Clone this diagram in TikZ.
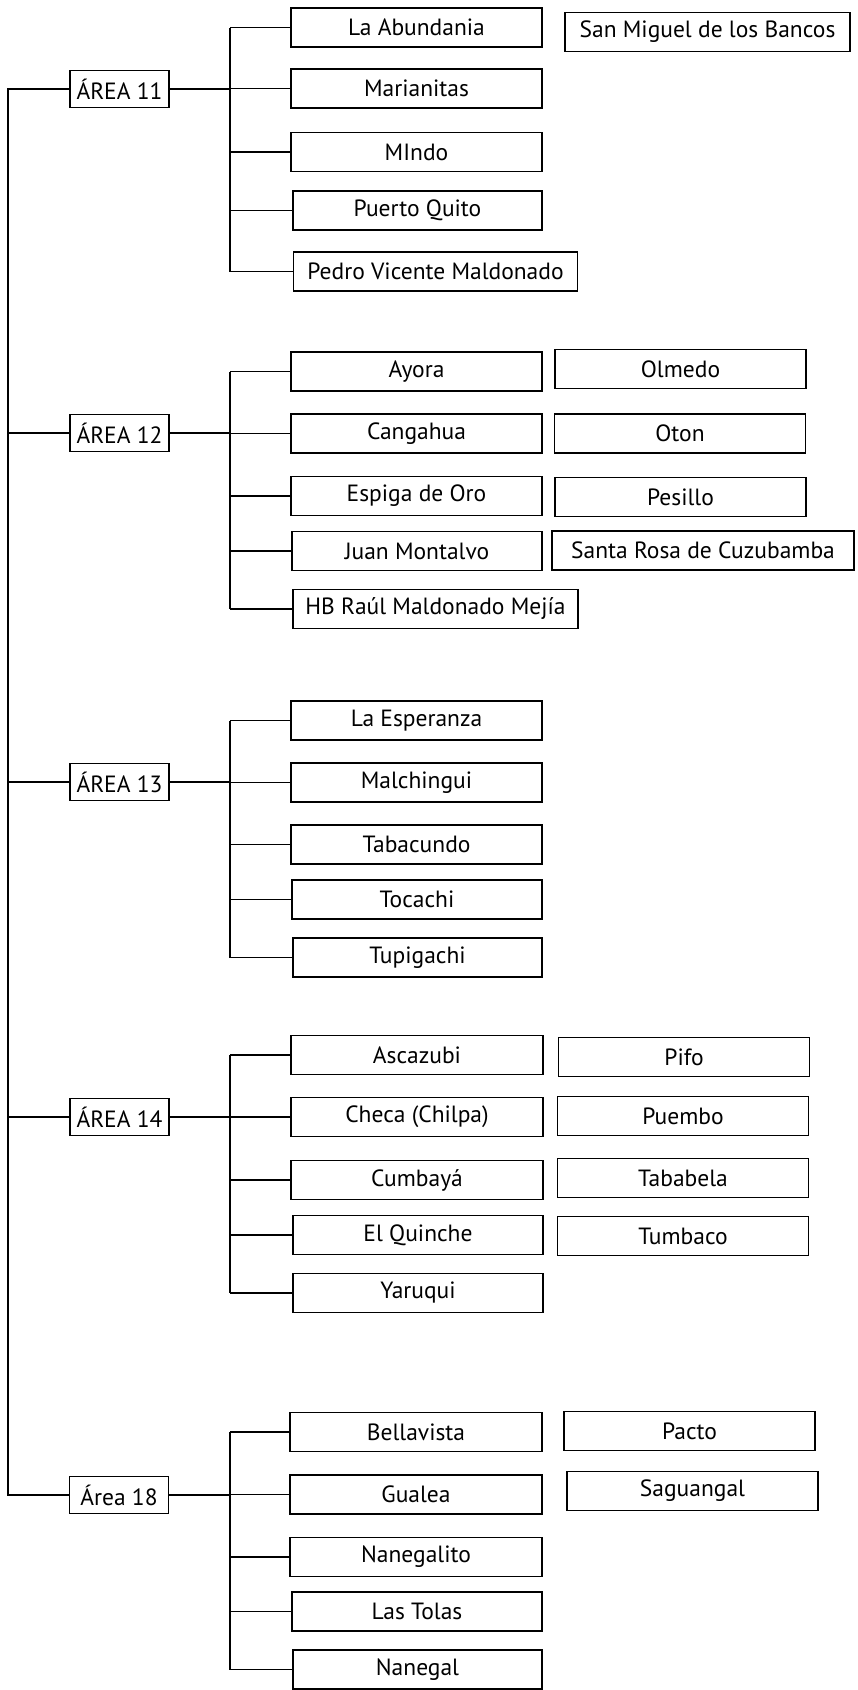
\documentclass[tikz,border=0pt]{standalone}
\usepackage{fontspec}
\setmainfont{PT Sans}
\begin{document}
\begin{tikzpicture}[x=1pt,y=-1pt]
  \tikzset{bx/.style={draw,rectangle,line width=1.4pt,minimum width=251pt,minimum height=39pt,inner sep=0pt,font=\fontsize{23.5}{25}\selectfont},
    ab/.style={bx,minimum width=99pt,minimum height=37pt},
    ln/.style={line width=1.3pt}}
  \useasboundingbox (0,0) rectangle (858,1690);
  \node[ab] (a11) at (119.5,89) {ÁREA 11};
  \node[ab] (a12) at (119.5,433) {ÁREA 12};
  \node[ab] (a13) at (119.5,782) {ÁREA 13};
  \node[ab] (a14) at (119.5,1117) {ÁREA 14};
  \node[ab] (a18) at (119,1495) {Área 18};
  \node[bx] (lab) at (416.5,27.5) {La Abundania};
  \node[bx] (mar) at (416.5,88.5) {Marianitas};
  \node[bx] (mid) at (416.5,152) {MIndo};
  \node[bx,minimum width=249pt] (pqu) at (417.5,210.5) {Puerto Quito};
  \node[bx,minimum width=284pt] (pvm) at (435.5,271.5) {Pedro Vicente Maldonado};
  \node[bx,minimum width=285pt] (smb) at (707.5,32) {San Miguel de los Bancos};
  \node[bx] (ayo) at (416.5,371.5) {Ayora};
  \node[bx] (cng) at (416.5,433.5) {Cangahua};
  \node[bx] (eso) at (416.5,496) {Espiga de Oro};
  \node[bx,minimum width=250pt] (jmo) at (417,551) {Juan Montalvo};
  \node[bx,minimum width=285pt] (hbr) at (435.5,609) {HB Raúl Maldonado Mejía};
  \node[bx] (olm) at (680.5,369) {Olmedo};
  \node[bx] (oto) at (680,433.5) {Oton};
  \node[bx] (pes) at (680.5,497) {Pesillo};
  \node[bx,minimum width=302pt] (src) at (703,550.5) {Santa Rosa de Cuzubamba};
  \node[bx] (les) at (416.5,720.5) {La Esperanza};
  \node[bx] (mal) at (416.5,782.5) {Malchingui};
  \node[bx] (tab) at (416.5,844.5) {Tabacundo};
  \node[bx,minimum width=250pt] (toc) at (417,899.5) {Tocachi};
  \node[bx,minimum width=249pt] (tup) at (417.5,957.5) {Tupigachi};
  \node[bx,minimum width=252pt] (asc) at (417,1055) {Ascazubi};
  \node[bx,minimum width=252pt] (che) at (417,1117) {Checa (Chilpa)};
  \node[bx,minimum width=252pt] (cum) at (417,1180) {Cumbayá};
  \node[bx,minimum width=250pt] (equ) at (418,1235) {El Quinche};
  \node[bx,minimum width=250pt] (yar) at (418,1293) {Yaruqui};
  \node[bx] (pif) at (684,1057) {Pifo};
  \node[bx] (pue) at (683,1116) {Puembo};
  \node[bx] (tbb) at (683,1178) {Tababela};
  \node[bx] (tum) at (683,1236) {Tumbaco};
  \node[bx,minimum width=252pt] (bel) at (416,1432) {Bellavista};
  \node[bx,minimum width=252pt] (gua) at (416,1494.5) {Gualea};
  \node[bx,minimum width=252pt] (nag) at (416,1557) {Nanegalito};
  \node[bx,minimum width=250pt] (lto) at (417,1611.5) {Las Tolas};
  \node[bx,minimum width=249pt] (nan) at (417.5,1669.5) {Nanegal};
  \node[bx] (pac) at (689.5,1431) {Pacto};
  \node[bx] (sag) at (692.5,1491) {Saguangal};
  \coordinate (top) at (8,89);
  \coordinate (bot) at (8,1495);
  \coordinate (br) at (230,0);
  \draw[ln] (a11.west) -- (top) -- (bot) -- (a18.west);
  \draw[ln] (a12.west) -- (a12.west -| top); \draw[ln] (a13.west) -- (a13.west -| top); \draw[ln] (a14.west) -- (a14.west -| top);
  \draw[ln] (a11.east) -- (a11.east -| br); \draw[ln] (lab.west -| br) -- (pvm.west -| br);
  \draw[ln] (lab.west -| br) -- (lab.west); \draw[ln] (mar.west -| br) -- (mar.west); \draw[ln] (mid.west -| br) -- (mid.west);
  \draw[ln] (pqu.west -| br) -- (pqu.west); \draw[ln] (pvm.west -| br) -- (pvm.west);
  \draw[ln] (a12.east) -- (a12.east -| br); \draw[ln] (ayo.west -| br) -- (hbr.west -| br);
  \draw[ln] (ayo.west -| br) -- (ayo.west); \draw[ln] (cng.west -| br) -- (cng.west); \draw[ln] (eso.west -| br) -- (eso.west);
  \draw[ln] (jmo.west -| br) -- (jmo.west); \draw[ln] (hbr.west -| br) -- (hbr.west);
  \draw[ln] (a13.east) -- (a13.east -| br); \draw[ln] (les.west -| br) -- (tup.west -| br);
  \draw[ln] (les.west -| br) -- (les.west); \draw[ln] (mal.west -| br) -- (mal.west); \draw[ln] (tab.west -| br) -- (tab.west);
  \draw[ln] (toc.west -| br) -- (toc.west); \draw[ln] (tup.west -| br) -- (tup.west);
  \draw[ln] (a14.east) -- (a14.east -| br); \draw[ln] (asc.west -| br) -- (yar.west -| br);
  \draw[ln] (asc.west -| br) -- (asc.west); \draw[ln] (che.west -| br) -- (che.west); \draw[ln] (cum.west -| br) -- (cum.west);
  \draw[ln] (equ.west -| br) -- (equ.west); \draw[ln] (yar.west -| br) -- (yar.west);
  \draw[ln] (a18.east) -- (a18.east -| br); \draw[ln] (bel.west -| br) -- (nan.west -| br);
  \draw[ln] (bel.west -| br) -- (bel.west); \draw[ln] (gua.west -| br) -- (gua.west); \draw[ln] (nag.west -| br) -- (nag.west);
  \draw[ln] (lto.west -| br) -- (lto.west); \draw[ln] (nan.west -| br) -- (nan.west);
\end{tikzpicture}
\end{document}
